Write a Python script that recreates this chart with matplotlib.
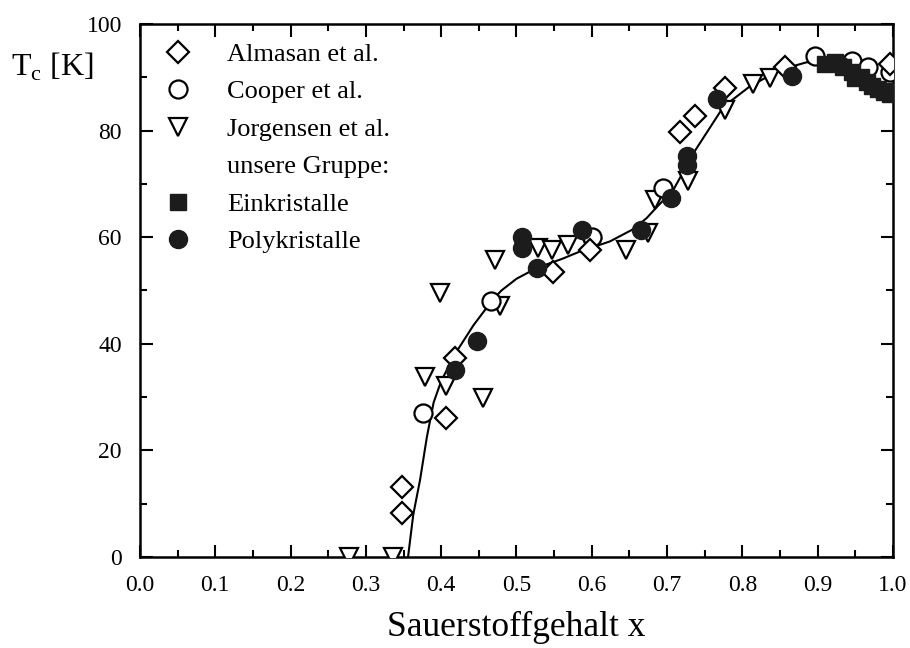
import matplotlib.pyplot as plt
from matplotlib.lines import Line2D
from matplotlib.ticker import MultipleLocator

plt.rcParams["font.family"] = ["Liberation Serif", "DejaVu Serif"]

# Almasan et al.
almasan_x = [0.348, 0.348, 0.407, 0.418, 0.549, 0.598, 0.717, 0.737, 0.777, 0.857, 0.996]
almasan_y = [8.2, 13.2, 26.0, 37.3, 53.5, 57.6, 79.8, 82.8, 88.0, 92.0, 92.5]

# Cooper et al.
cooper_x = [0.376, 0.466, 0.600, 0.695, 0.896, 0.945, 0.967, 0.996]
cooper_y = [27.0, 48.0, 60.0, 69.2, 94.0, 93.0, 92.0, 91.0]

# Jorgensen et al.
jorgensen_x = [0.277, 0.336, 0.378, 0.398, 0.407, 0.456, 0.471, 0.478, 0.529, 0.547,
               0.569, 0.600, 0.646, 0.675, 0.684, 0.728, 0.777, 0.814, 0.837]
jorgensen_y = [0.0, 0.0, 33.8, 49.5, 32.0, 29.8, 55.7, 47.0, 57.9, 57.6,
               58.5, 58.0, 57.6, 60.8, 67.0, 70.5, 83.8, 88.8, 89.8]

# unsere Gruppe: Einkristalle
einkristalle_x = [0.910, 0.923, 0.934, 0.945, 0.950, 0.958, 0.965, 0.972, 0.980, 0.988, 0.996, 1.000]
einkristalle_y = [92.4, 92.8, 92.0, 91.0, 89.8, 90.0, 89.2, 88.3, 87.8, 87.2, 86.8, 87.5]

# unsere Gruppe: Polykristalle
poly_x = [0.418, 0.447, 0.507, 0.507, 0.527, 0.587, 0.666, 0.705, 0.726, 0.726, 0.766, 0.866, 0.930]
poly_y = [35.0, 40.5, 60.1, 57.9, 54.2, 61.3, 61.3, 67.4, 73.5, 75.3, 86.0, 90.2, 92.3]

# fitted curve
curve_x = [0.356, 0.363, 0.372, 0.381, 0.390, 0.400, 0.418, 0.443, 0.467, 0.480, 0.500,
           0.520, 0.540, 0.560, 0.584, 0.624, 0.655, 0.673, 0.686, 0.708, 0.737, 0.775,
           0.810, 0.850, 0.885, 0.910, 0.930, 0.965, 1.000]
curve_y = [0.0, 8.0, 14.5, 22.5, 29.0, 33.0, 38.0, 43.5, 48.0, 50.0, 52.2,
           53.7, 54.9, 55.9, 57.3, 59.2, 61.5, 63.6, 65.6, 68.8, 76.2, 84.5,
           88.3, 91.4, 92.8, 93.0, 92.2, 89.5, 86.5]

fig = plt.figure(figsize=(9.1, 6.48), dpi=100)
ax = fig.add_axes([0.1538, 0.1404, 0.8275, 0.8226])

ax.plot(curve_x, curve_y, color="black", lw=1.5, zorder=2)

dark = "#1c1c1c"
ms_open = dict(mfc="white", mec="black", mew=1.6, ls="none", zorder=3)
ax.plot(jorgensen_x, jorgensen_y, marker="v", ms=13.5, **ms_open)
ax.plot(cooper_x, cooper_y, marker="o", ms=13, **ms_open)
ax.plot(almasan_x, almasan_y, marker="D", ms=11, **ms_open)
ax.plot(einkristalle_x, einkristalle_y, marker="s", ms=11, mfc=dark, mec=dark,
        ls="none", zorder=4)
ax.plot(poly_x, poly_y, marker="o", ms=13, mfc=dark, mec=dark, ls="none", zorder=4)

ax.set_xlim(0, 1.0)
ax.set_ylim(0, 100)
ax.xaxis.set_major_locator(MultipleLocator(0.1))
ax.xaxis.set_minor_locator(MultipleLocator(0.05))
ax.yaxis.set_major_locator(MultipleLocator(20))
ax.yaxis.set_minor_locator(MultipleLocator(10))
ax.tick_params(which="both", direction="in", top=True, right=True, width=1.5,
               labelsize=17)
ax.tick_params(which="major", length=9, pad=13)
ax.tick_params(which="minor", length=5)
for spine in ax.spines.values():
    spine.set_linewidth(1.8)

ax.set_xlabel("Sauerstoffgehalt x", fontsize=25.5, labelpad=11)
fig.text(0.012, 0.884, r"T$_{\mathregular{c}}$ [K]", fontsize=23, ha="left",
         va="baseline")

handles = [
    Line2D([], [], marker="D", ms=11, **ms_open),
    Line2D([], [], marker="o", ms=13, **ms_open),
    Line2D([], [], marker="v", ms=13.5, **ms_open),
    Line2D([], [], ls="none"),
    Line2D([], [], marker="s", ms=11, mfc=dark, mec=dark, ls="none"),
    Line2D([], [], marker="o", ms=13, mfc=dark, mec=dark, ls="none"),
]
labels = ["Almasan et al.", "Cooper et al.", "Jorgensen et al.", "unsere Gruppe:",
          "Einkristalle", "Polykristalle"]
ax.legend(handles, labels, loc="upper left", frameon=False, fontsize=19,
          handlelength=1.0, handletextpad=1.35, labelspacing=0.53,
          borderaxespad=0.3, bbox_to_anchor=(0.009, 1.0))

fig.savefig("out.png", dpi=100)
